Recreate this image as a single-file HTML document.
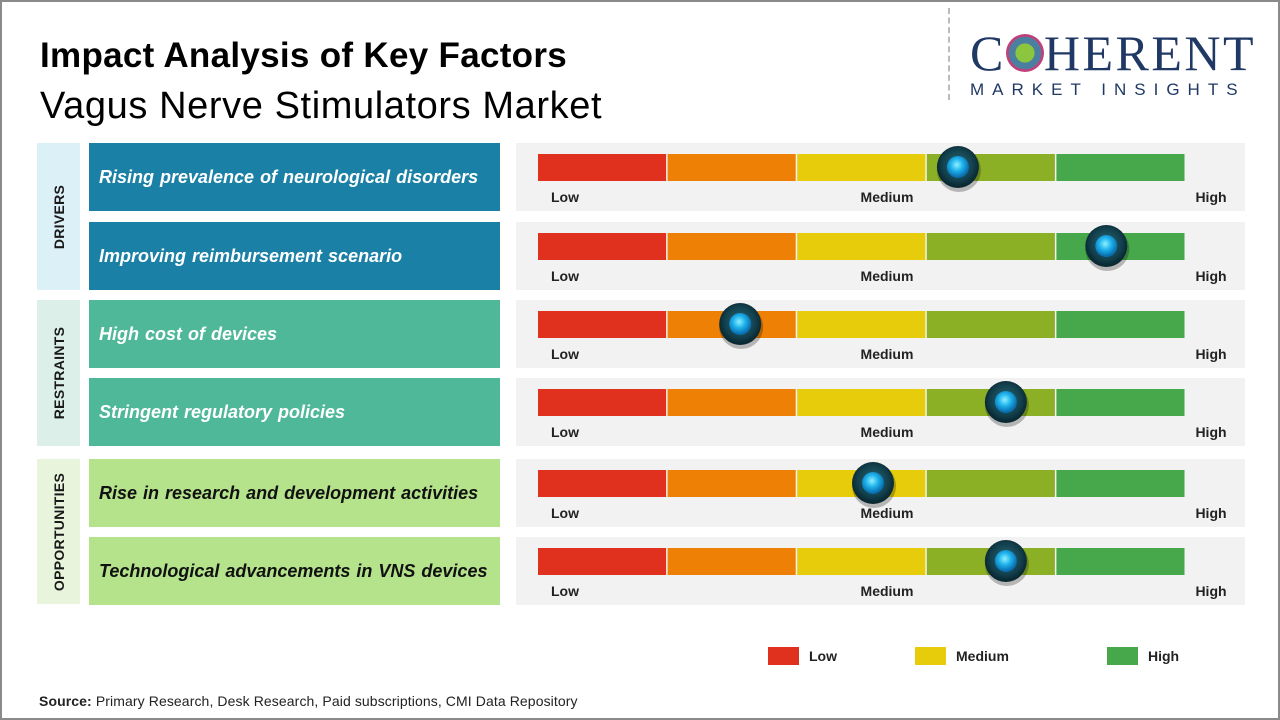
<!DOCTYPE html>
<html><head><meta charset="utf-8"><style>
body{margin:0;width:1280px;height:720px;overflow:hidden;background:#fff;font-family:"Liberation Sans",sans-serif;}
#frame{position:absolute;left:0;top:0;width:1276px;height:716px;border:2px solid #8a8a8a;}
.abs{position:absolute;}
.cat{position:absolute;left:37px;width:43px;}
.cat span{position:absolute;left:50%;top:50%;transform:translate(-50%,-50%) rotate(-90deg);font-weight:bold;font-size:14px;letter-spacing:0.3px;white-space:nowrap;color:#1a1a1a;}
.fac{position:absolute;left:89px;width:411px;height:68px;font-style:italic;font-weight:bold;font-size:18px;line-height:68px;padding-left:10px;box-sizing:border-box;word-spacing:1px;}
</style></head><body>
<div id="frame"></div>
<div class="abs" style="left:40px;top:36px;font-size:35px;font-weight:bold;color:#000;letter-spacing:0.3px;">Impact Analysis of Key Factors</div>
<div class="abs" style="left:40px;top:85px;font-size:38px;color:#000;letter-spacing:0.6px;">Vagus Nerve Stimulators Market</div>
<div class="abs" style="left:948px;top:8px;height:92px;border-left:2px dashed #bbb;"></div>
<div class="abs" style="left:970px;top:28px;color:#1f3864;">
 <div style="font-family:'Liberation Serif',serif;font-size:50px;line-height:50px;letter-spacing:2.5px;">C<span style="display:inline-block;width:38px;height:38px;border-radius:50%;background:radial-gradient(circle,#8cc63f 0 35%,#4a7fa0 36% 60%,#c0407a 61% 75%,transparent 76%);vertical-align:-2px;"></span>HERENT</div>
 <div style="font-size:17px;letter-spacing:8px;margin-top:2px;">MARKET INSIGHTS</div>
</div>
<div class="cat" style="top:143px;height:147px;background:#dcf0f8;"><span>DRIVERS</span></div>
<div class="cat" style="top:300px;height:146px;background:#ddefe9;"><span>RESTRAINTS</span></div>
<div class="cat" style="top:459px;height:145px;background:#e8f5dc;"><span>OPPORTUNITIES</span></div>
<div id="facs"></div>
<svg id="g" class="abs" style="left:0;top:0" width="1280" height="720">
<defs>
<radialGradient id="knob" cx="50%" cy="45%" r="50%"><stop offset="0" stop-color="#2a6a78"/><stop offset="0.75" stop-color="#123f4c"/><stop offset="1" stop-color="#0a2a33"/></radialGradient>
<radialGradient id="core" cx="45%" cy="40%" r="55%"><stop offset="0" stop-color="#8ff0ff"/><stop offset="0.5" stop-color="#1fb3ec"/><stop offset="1" stop-color="#0a6fb0"/></radialGradient>
</defs></svg>
<div class="abs" style="left:39px;top:693px;font-size:14px;color:#222;letter-spacing:0.1px;"><b>Source:</b> Primary Research, Desk Research, Paid subscriptions, CMI Data Repository</div>
<script>
const factors=["Rising prevalence of neurological disorders","Improving reimbursement scenario","High cost of devices","Stringent regulatory policies","Rise in research and development activities","Technological advancements in VNS devices"];
const groups=["driver","driver","restraint","restraint","opportunity","opportunity"];
const impact=[0.648,0.877,0.312,0.722,0.517,0.722];
const scaleLabels=["Low","Medium","High"];
const legendLabels=["Low","Medium","High"];
const rowTops=[143,222,300,378,459,537];
const segColors=["#e0301e","#ee8005","#e6cc0a","#8bb025","#46a84a"];
const fill={driver:"#1a80a6",restraint:"#4fb898",opportunity:"#b5e38c"};
const txt={driver:"#fff",restraint:"#fff",opportunity:"#111"};
const NS="http://www.w3.org/2000/svg";
const svg=document.getElementById('g');
const facs=document.getElementById('facs');
const X0=538,W=648;
const xs=v=>X0+v*W;
function mk(t,a,p){const e=document.createElementNS(NS,t);for(const k in a)e.setAttribute(k,a[k]);(p||svg).appendChild(e);return e;}
factors.forEach((f,i)=>{
 const d=document.createElement('div');
 d.className='fac';
 d.style.top=rowTops[i]+'px';d.style.background=fill[groups[i]];d.style.color=txt[groups[i]];
 d.textContent=f;
 
 
 facs.appendChild(d);
 const y=rowTops[i];
 const p=mk('rect',{x:516,y:y,width:729,height:68,fill:'#f2f2f2'});
 
 
 segColors.forEach((c,j)=>{
  const r=mk('rect',{x:xs(j/5),y:y+11,width:W/5-1.5,height:27,fill:c});
  
  
 });
 [0,0.5,1].forEach((v,k)=>{
  const t=mk('text',{x:k==0?551:k==1?887:1211,y:y+59,'font-size':14,'font-weight':'bold','text-anchor':k==0?'start':'middle',fill:'#222'});
  t.textContent=scaleLabels[k];
  
  
 });
 const cx=xs(impact[i]),cy=y+24;
 const g=mk('g',{});
 
 
 mk('circle',{cx:cx+1,cy:cy+3,r:22,fill:'rgba(0,0,0,0.25)'},g);
 mk('circle',{cx:cx,cy:cy,r:21,fill:'url(#knob)'},g);
 mk('circle',{cx:cx,cy:cy,r:11,fill:'url(#core)'},g);
});
const lx=[768,915,1107],lc=["#e0301e","#e6cc0a","#46a84a"];
legendLabels.forEach((l,i)=>{
 const r=mk('rect',{x:lx[i],y:647,width:31,height:18,fill:lc[i]});
 
 
 const t=mk('text',{x:lx[i]+41,y:661,'font-size':14,'font-weight':'bold',fill:'#222'});
 t.textContent=l;
 
 
});
</script>
</body></html>
